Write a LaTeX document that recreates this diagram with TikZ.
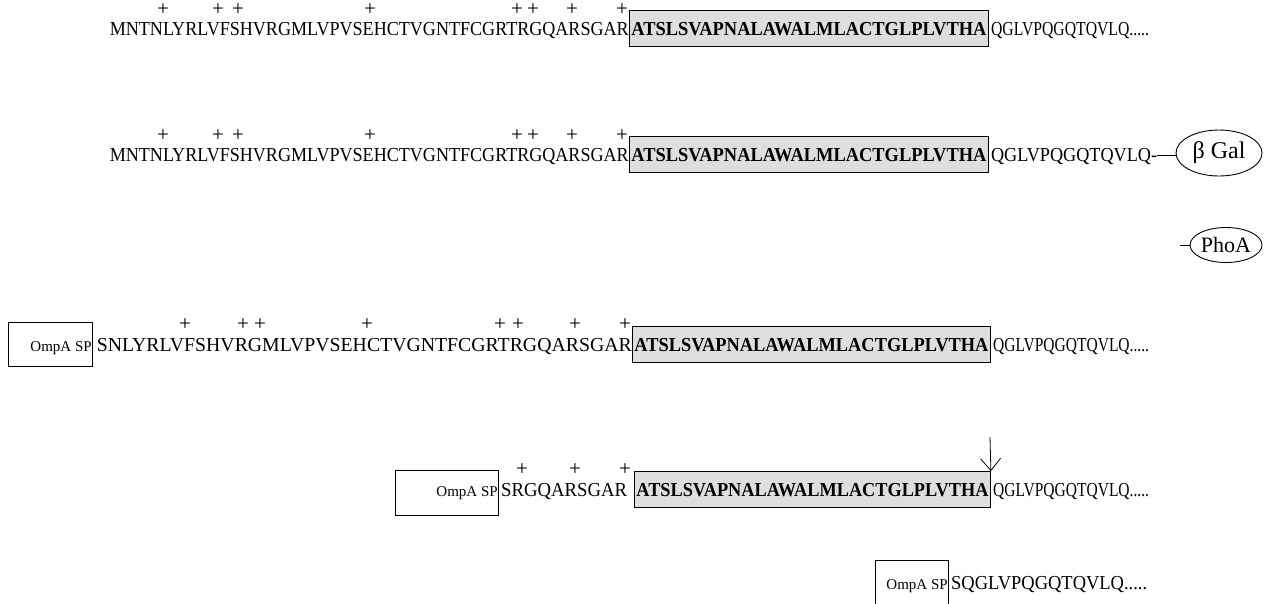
\documentclass[tikz,border=0pt]{standalone}
\usepackage{fontspec}
\setmainfont{Liberation Serif}
\usepackage{graphicx}
\usetikzlibrary{shapes.geometric,arrows.meta}
\newcommand\fitw[2]{\resizebox{#1}{1.1\height}{#2}}
\begin{document}
\begin{tikzpicture}[x=1pt,y=-1pt,
  seq/.style={inner sep=0pt, font=\fontsize{18}{20}\selectfont},
  plus/.style={inner sep=0pt, font=\fontsize{21}{22}\selectfont},
  gbox/.style={draw, fill=black!13, line width=0.9pt, inner sep=0pt, minimum height=36pt, font=\fontsize{18}{20}\selectfont\bfseries},
  obox/.style={draw, line width=0.9pt, inner sep=0pt},
  otext/.style={inner sep=0pt, font=\fontsize{15}{17}\selectfont},
  oval/.style={draw, ellipse, line width=0.9pt, inner sep=0pt},
  link/.style={line width=0.8pt},
  cut/.style={line width=0.8pt, -{Straight Barb[length=12pt,width=20pt,line width=0.8pt]}}
]
\useasboundingbox (0,0) rectangle (1269,603);

% Row 1
\node[gbox, anchor=base west, minimum width=359pt] (b1) at (629,35) {\fitw{355pt}{ATSLSVAPNALAWALMLACTGLPLVTHA}};
\node[seq, anchor=base east] (a1) at (b1.base west) {\fitw{519pt}{MNTNLYRLVFSHVRGMLVPVSEHCTVGNTFCGRTRGQARSGAR}};
\node[seq, anchor=base west] (c1) at ([xshift=2pt]b1.base east) {\fitw{158pt}{QGLVPQGQTQVLQ.....}};
\foreach \x [count=\i] in {163,218,238,370,517,533,572,622}
  \node[plus] (p1\i) at (\x,10) {+};

% Row 2
\node[gbox, anchor=base west, minimum width=359pt] (b2) at (629,161) {\fitw{355pt}{ATSLSVAPNALAWALMLACTGLPLVTHA}};
\node[seq, anchor=base east] (a2) at (b2.base west) {\fitw{519pt}{MNTNLYRLVFSHVRGMLVPVSEHCTVGNTFCGRTRGQARSGAR}};
\node[seq, anchor=base west] (c2) at ([xshift=2pt]b2.base east) {\fitw{166pt}{QGLVPQGQTQVLQ-}};
\foreach \x [count=\i] in {163,218,238,370,517,533,572,622}
  \node[plus] (p2\i) at (\x,136) {+};
\node[oval, minimum width=86pt, minimum height=46pt, font=\fontsize{24}{26}\selectfont] (gal) at (1219,153) {β Gal};
\coordinate (c2end) at ([yshift=6pt]c2.base east);
\draw[link] (c2end) -- (c2end -| gal.west);

% PhoA
\node[oval, minimum width=72pt, minimum height=35pt, font=\fontsize{22}{24}\selectfont] (phoa) at (1226,245) {PhoA};
\coordinate (phoal) at (1180,245);
\draw[link] (phoal) -- (phoa.west);

% Row 3
\node[obox, minimum width=84pt, minimum height=44pt, anchor=north west] (o3) at (8,322) {};
\node[gbox, anchor=base west, minimum width=358pt] (b3) at (632,351) {\fitw{354pt}{ATSLSVAPNALAWALMLACTGLPLVTHA}};
\node[seq, anchor=base east] (a3) at (b3.base west) {\fitw{535pt}{SNLYRLVFSHVRGMLVPVSEHCTVGNTFCGRTRGQARSGAR}};
\node[otext, anchor=base east] (o3t) at ([xshift=-1pt]o3.east |- a3.base) {OmpA SP};
\node[seq, anchor=base west] (c3) at ([xshift=2pt]b3.base east) {\fitw{156pt}{QGLVPQGQTQVLQ.....}};
\foreach \x [count=\i] in {185,243,260,367,500,518,575,625}
  \node[plus] (p3\i) at (\x,325) {+};

% Row 4
\node[obox, minimum width=103pt, minimum height=45pt, anchor=north west] (o4) at (395,470) {};
\node[gbox, anchor=base west, minimum width=356pt] (b4) at (634,496) {\fitw{352pt}{ATSLSVAPNALAWALMLACTGLPLVTHA}};
\node[seq, anchor=base west] (a4) at ([xshift=2pt]o4.east |- b4.base) {\fitw{126pt}{SRGQARSGAR}};
\node[otext, anchor=base east] (o4t) at ([xshift=-1pt]o4.east |- a4.base) {OmpA SP};
\node[seq, anchor=base west] (c4) at ([xshift=2pt]b4.base east) {\fitw{156pt}{QGLVPQGQTQVLQ.....}};
\foreach \x [count=\i] in {522,575,625}
  \node[plus] (p4\i) at (\x,470) {+};
\coordinate (arr4) at (990,437);
\draw[cut] (arr4) -- (b4.north east);

% Row 5
\node[obox, minimum width=73pt, minimum height=50pt, anchor=north west] (o5) at (875,560) {};
\node[seq, anchor=base west] (a5) at (951,589) {\fitw{196pt}{SQGLVPQGQTQVLQ.....}};
\node[otext, anchor=base east] (o5t) at ([xshift=-1pt]o5.east |- a5.base) {OmpA SP};
\end{tikzpicture}
\end{document}
